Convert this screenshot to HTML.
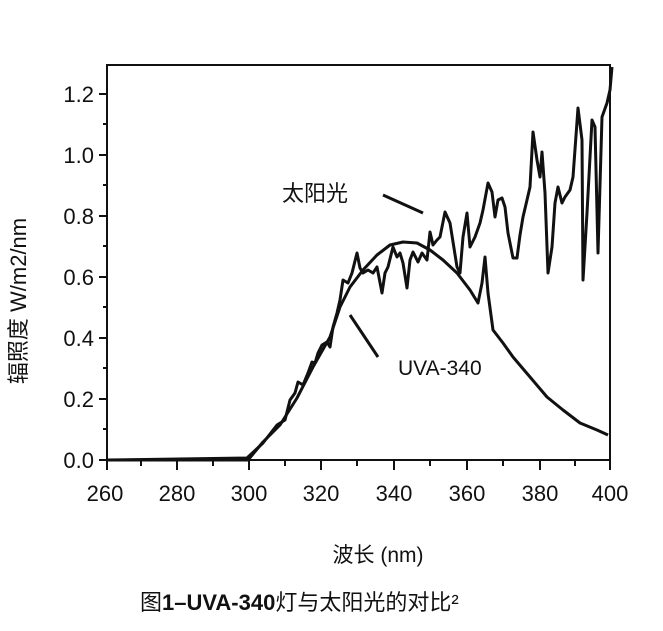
<!DOCTYPE html>
<html><head><meta charset="utf-8"><style>
html,body{margin:0;padding:0;background:#fff;}
svg{display:block;}
text{font-family:"Liberation Sans","Noto Sans CJK SC",sans-serif;fill:#111;}
</style></head><body>
<svg width="663" height="631" viewBox="0 0 663 631" xmlns="http://www.w3.org/2000/svg">
<g stroke="#111" stroke-width="2" fill="none">
<rect x="107" y="65" width="503" height="395"/>
<path d="M99 94H107M99 155H107M99 216H107M99 277H107M99 338H107M99 399H107M99 460H107"/>
<path d="M103 124H107M103 185H107M103 246H107M103 307H107M103 368H107M103 429H107"/>
<path d="M107 460V470M177 460V470M249 460V470M321 460V470M394 460V470M467 460V470M540 460V470M610 460V470"/>
<path d="M141 460V466M213 460V466M285 460V466M357 460V466M430 460V466M503 460V466M575 460V466"/>
</g>
<g font-size="22" text-anchor="end">
<text x="94" y="102">1.2</text><text x="94" y="163">1.0</text><text x="94" y="224">0.8</text>
<text x="94" y="285">0.6</text><text x="94" y="346">0.4</text><text x="94" y="407">0.2</text><text x="94" y="468">0.0</text>
</g>
<g font-size="22" text-anchor="middle">
<text x="105" y="501">260</text><text x="177" y="501">280</text><text x="249" y="501">300</text>
<text x="321" y="501">320</text><text x="394" y="501">340</text><text x="467" y="501">360</text>
<text x="540" y="501">380</text><text x="610" y="501">400</text>
</g>
<text transform="translate(26,301) rotate(-90)" font-size="22" text-anchor="middle">辐照度  W/m2/nm</text>
<text x="378" y="562" font-size="21" text-anchor="middle">波长 (nm)</text>
<text x="140" y="610" font-size="22">图<tspan font-weight="bold">1–UVA-340</tspan>灯与太阳光的对比²</text>
<text x="282" y="201" font-size="22">太阳光</text>
<text x="398" y="375" font-size="21">UVA-340</text>
<g stroke="#111" stroke-width="3" fill="none" stroke-linejoin="round">
<path d="M383 195L423 213M350 315L378 357"/>
<path d="M107 460L248 460 L263 442 L280 425 L297 398 L313 367 L330 337 L340 307 L350 287 L363 270 L377 255 L390 245 L403 242 L417 243 L430 250 L443 260 L457 273 L470 290 L478 303 L482 283 L485 257 L488 293 L493 330 L503 343 L513 357 L530 377 L547 397 L563 410 L580 423 L597 430 L608 435"/>
<path d="M107 460L247 458 L263 443 L277 425 L285 420 L290 400 L295 393 L298 382 L303 385 L308 373 L312 362 L315 363 L318 353 L322 345 L327 342 L330 347 L333 327 L337 313 L340 300 L343 280 L348 283 L352 273 L357 253 L360 268 L363 273 L368 270 L373 273 L377 267 L382 293 L385 273 L388 267 L393 247 L397 257 L400 253 L403 263 L407 288 L410 260 L413 252 L418 262 L422 253 L427 260 L430 232 L433 245 L437 240 L440 237 L445 212 L450 223 L457 267 L460 273 L463 237 L467 213 L470 247 L475 237 L480 223 L483 210 L488 183 L492 192 L495 217 L498 200 L502 198 L505 207 L508 233 L513 258 L517 258 L520 235 L523 217 L527 200 L530 187 L533 132 L537 160 L540 177 L542 152 L545 193 L548 273 L552 247 L555 203 L558 187 L562 203 L565 197 L570 190 L573 177 L578 108 L582 140 L583 280 L587 213 L592 120 L595 127 L598 253 L602 117 L607 103 L610 90 L612 67"/>
</g>
</svg>
</body></html>
